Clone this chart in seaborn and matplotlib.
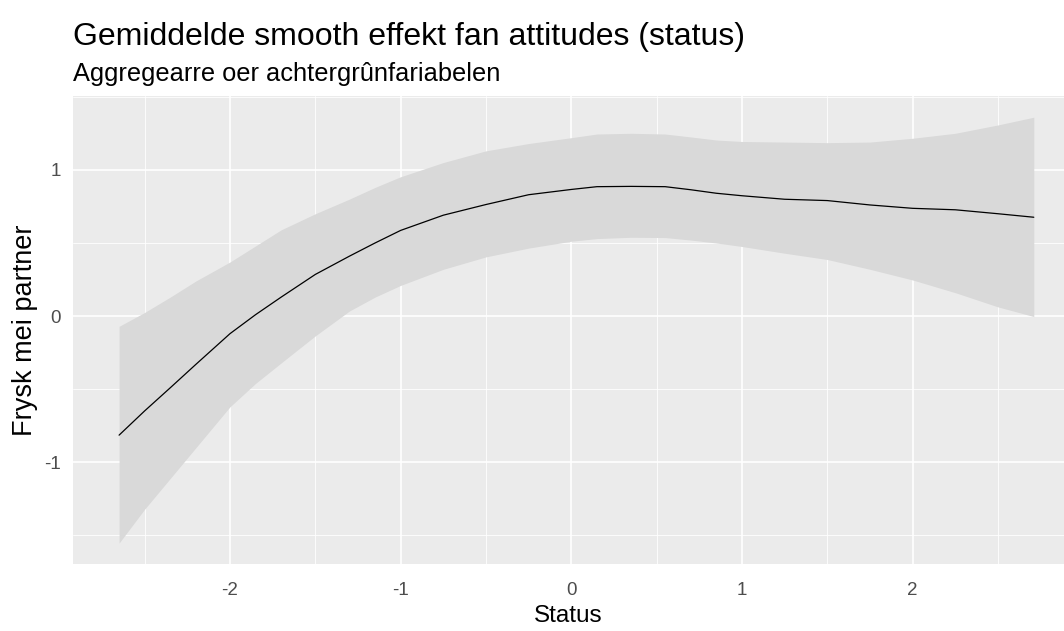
import numpy as np
import pandas as pd
import seaborn as sns
import matplotlib.pyplot as plt
from matplotlib.ticker import MultipleLocator

# smooth effect
status = [-2.65, -2.5, -2.35, -2.2, -2.0, -1.85, -1.7, -1.5, -1.3, -1.15, -1.0, -0.75, -0.5, -0.25,
          0.0, 0.15, 0.35, 0.55, 0.7, 0.85, 1.0, 1.25, 1.5, 1.75, 2.0, 2.25, 2.5, 2.71]
fit = [-0.814, -0.648, -0.49, -0.33, -0.12, 0.01, 0.13, 0.285, 0.41, 0.50, 0.586, 0.69, 0.763, 0.83,
       0.866, 0.885, 0.887, 0.885, 0.864, 0.84, 0.823, 0.799, 0.79, 0.76, 0.737, 0.727, 0.70, 0.676]
upper = [-0.07, 0.025, 0.13, 0.24, 0.37, 0.48, 0.59, 0.70, 0.80, 0.88, 0.953, 1.05, 1.13, 1.18,
         1.22, 1.245, 1.25, 1.245, 1.225, 1.204, 1.194, 1.19, 1.186, 1.19, 1.216, 1.25, 1.307, 1.36]
lower = [-1.552, -1.32, -1.11, -0.90, -0.62, -0.46, -0.32, -0.135, 0.035, 0.13, 0.21, 0.32, 0.405, 0.465,
         0.512, 0.53, 0.539, 0.537, 0.52, 0.50, 0.476, 0.43, 0.387, 0.32, 0.247, 0.16, 0.063, -0.003]

df = pd.DataFrame({"status": status, "fit": fit, "lower": lower, "upper": upper})

sns.set_theme(style="darkgrid", rc={
    "axes.facecolor": "#EBEBEB",
    "grid.color": "white",
    "axes.edgecolor": "#EBEBEB",
    "xtick.color": "#333333",
    "ytick.color": "#333333",
    "axes.unicode_minus": False,
})
plt.rcParams["font.family"] = ["Liberation Sans", "DejaVu Sans"]

fig = plt.figure(figsize=(10.64, 6.31), dpi=100)
ax = fig.add_axes([73 / 1064, (631 - 564) / 631, (1064 - 73) / 1064, (564 - 96) / 631])

ax.fill_between(df["status"], df["lower"], df["upper"], color="#D9D9D9", linewidth=0, zorder=2)
sns.lineplot(data=df, x="status", y="fit", color="black", linewidth=0.9, ax=ax, zorder=3)

ax.set_xlim(-2.92, 2.887)
ax.set_ylim(-1.695, 1.505)
ax.xaxis.set_major_locator(MultipleLocator(1))
ax.yaxis.set_major_locator(MultipleLocator(1))
ax.xaxis.set_minor_locator(MultipleLocator(0.5))
ax.yaxis.set_minor_locator(MultipleLocator(0.5))
ax.grid(which="major", color="white", linewidth=1.2)
ax.grid(which="minor", color="white", linewidth=0.6)
for s in ax.spines.values():
    s.set_visible(False)

ax.tick_params(which="major", length=4, width=1, color="#333333", labelsize=13.5,
               labelcolor="#4D4D4D")
ax.tick_params(axis="x", which="major", pad=9)
ax.tick_params(axis="y", which="major", pad=5)
ax.tick_params(which="minor", length=0)

ax.set_xlabel("Status", fontsize=17.5, color="black", labelpad=4)
ax.set_ylabel("Frysk mei partner", fontsize=19.5, color="black", labelpad=4)

fig.text(73 / 1064, 1 - 45 / 631, "Gemiddelde smooth effekt fan attitudes (status)",
         fontsize=23, color="black", ha="left", va="baseline")
fig.text(73 / 1064, 1 - 81 / 631, "Aggregearre oer achtergrûnfariabelen",
         fontsize=18.3, color="black", ha="left", va="baseline")

fig.savefig("out.png", dpi=100)
